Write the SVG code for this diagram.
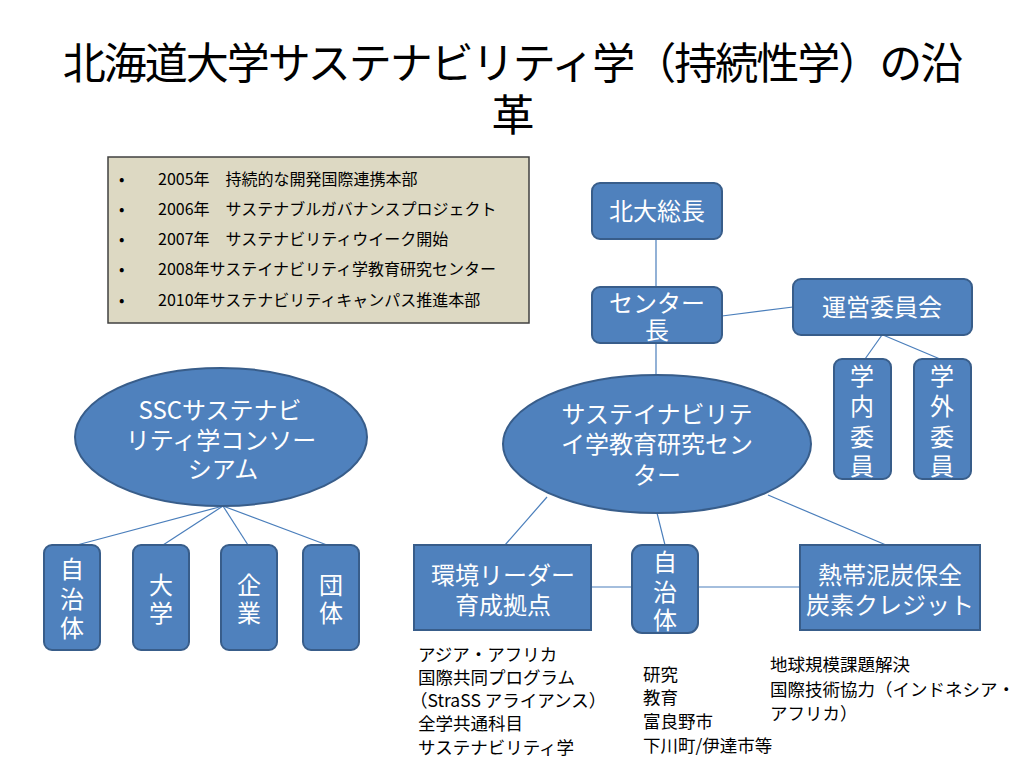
<svg xmlns="http://www.w3.org/2000/svg" width="1024" height="768" viewBox="0 0 1024 768">
<style>
text{font-family:"Noto Sans CJK JP","Noto Sans CJK SC",sans-serif}
.title{font-size:43px;fill:#000;text-anchor:middle;letter-spacing:-2px}
.node{fill:#4F81BD;stroke:#385D8A;stroke-width:2}
.nt{font-size:24px;fill:#fff;text-anchor:middle}
.bl{font-size:16px;fill:#000}
.sub{font-size:17.5px;fill:#000}
.conn line{stroke:#4A7EBB;stroke-width:1.2}
</style>
<rect width="1024" height="768" fill="#fff"/>
<g id="title">
<text class="title"><tspan x="512" y="79">北海道大学サステナビリティ学（持続性学）の沿</tspan><tspan x="512" y="131">革</tspan></text>
</g>
<g id="history">
<rect x="108" y="157" width="421" height="166" fill="#DDD9C3" stroke="#404040" stroke-width="1.5"/>
<text class="bl" x="119" y="185">•</text>
<text class="bl" x="158" y="185">2005年　持続的な開発国際連携本部</text>
<text class="bl" x="119" y="215">•</text>
<text class="bl" x="158" y="215">2006年　サステナブルガバナンスプロジェクト</text>
<text class="bl" x="119" y="245">•</text>
<text class="bl" x="158" y="245">2007年　サステナビリティウイーク開始</text>
<text class="bl" x="119" y="275">•</text>
<text class="bl" x="158" y="275">2008年サステイナビリティ学教育研究センター</text>
<text class="bl" x="119" y="306">•</text>
<text class="bl" x="158" y="306">2010年サステナビリティキャンパス推進本部</text>
</g>
<g class="conn" id="connectors">
<line x1="656" y1="239" x2="656" y2="287"/>
<line x1="722" y1="316" x2="793" y2="307"/>
<line x1="882" y1="335" x2="865" y2="359"/>
<line x1="883" y1="335" x2="940" y2="359"/>
<line x1="656" y1="343" x2="656" y2="375"/>
<line x1="547" y1="497" x2="505" y2="545"/>
<line x1="657" y1="513" x2="665" y2="545"/>
<line x1="768" y1="495" x2="886" y2="545"/>
<line x1="591" y1="587" x2="632" y2="587"/>
<line x1="698" y1="587" x2="800" y2="587"/>
<line x1="223" y1="506" x2="77" y2="545"/>
<line x1="223" y1="506" x2="163" y2="545"/>
<line x1="223" y1="506" x2="248" y2="545"/>
<line x1="223" y1="506" x2="327" y2="545"/>
</g>
<g id="president">
<rect class="node" x="592" y="183" width="130" height="56" rx="8"/>
<text class="nt" x="657" y="220">北大総長</text>
</g>
<g id="director">
<rect class="node" x="592" y="287" width="130" height="56" rx="8"/>
<text class="nt"><tspan x="657" y="312">センター</tspan><tspan x="657" y="339">長</tspan></text>
</g>
<g id="committee">
<rect class="node" x="793" y="279" width="179" height="56" rx="8"/>
<text class="nt" x="882" y="316">運営委員会</text>
</g>
<g id="internal">
<rect class="node" x="834" y="359" width="57" height="120" rx="8"/>
<text class="nt"><tspan x="862" y="385">学</tspan><tspan x="862" y="415">内</tspan><tspan x="862" y="446">委</tspan><tspan x="862" y="475">員</tspan></text>
</g>
<g id="external">
<rect class="node" x="914" y="359" width="57" height="120" rx="8"/>
<text class="nt"><tspan x="942" y="385">学</tspan><tspan x="942" y="415">外</tspan><tspan x="942" y="446">委</tspan><tspan x="942" y="475">員</tspan></text>
</g>
<g id="center">
<ellipse class="node" cx="657" cy="444" rx="154" ry="69"/>
<text class="nt"><tspan x="657" y="423">サステイナビリテ</tspan><tspan x="657" y="453">イ学教育研究セン</tspan><tspan x="657" y="484">ター</tspan></text>
</g>
<g id="ssc">
<ellipse class="node" cx="221" cy="437" rx="146" ry="69"/>
<text class="nt"><tspan x="220" y="419">SSCサステナビ</tspan><tspan x="221" y="449">リティ学コンソー</tspan><tspan x="223" y="478">シアム</tspan></text>
</g>
<g id="ssc-local">
<rect class="node" x="44" y="545" width="56" height="105" rx="8"/>
<text class="nt"><tspan x="72" y="578">自</tspan><tspan x="72" y="608">治</tspan><tspan x="72" y="637">体</tspan></text>
</g>
<g id="ssc-univ">
<rect class="node" x="133" y="545" width="56" height="105" rx="8"/>
<text class="nt"><tspan x="161" y="594">大</tspan><tspan x="161" y="622">学</tspan></text>
</g>
<g id="ssc-company">
<rect class="node" x="221" y="545" width="56" height="105" rx="8"/>
<text class="nt"><tspan x="249" y="594">企</tspan><tspan x="249" y="622">業</tspan></text>
</g>
<g id="ssc-group">
<rect class="node" x="303" y="545" width="56" height="105" rx="8"/>
<text class="nt"><tspan x="331" y="594">団</tspan><tspan x="331" y="622">体</tspan></text>
</g>
<g id="leader">
<rect class="node" x="414" y="545" width="177" height="85"/>
<text class="nt"><tspan x="503" y="584">環境リーダー</tspan><tspan x="503" y="614">育成拠点</tspan></text>
</g>
<g id="local">
<rect class="node" x="632" y="545" width="66" height="88" rx="10"/>
<text class="nt"><tspan x="665" y="571">自</tspan><tspan x="665" y="601">治</tspan><tspan x="665" y="629">体</tspan></text>
</g>
<g id="peat">
<rect class="node" x="800" y="545" width="180" height="85"/>
<text class="nt"><tspan x="890" y="584">熱帯泥炭保全</tspan><tspan x="890" y="614">炭素クレジット</tspan></text>
</g>
<g id="notes-leader">
<text class="sub" x="418" y="661">アジア・アフリカ</text>
<text class="sub" x="418" y="684">国際共同プログラム</text>
<text class="sub" x="410" y="707">（StraSS アライアンス）</text>
<text class="sub" x="418" y="730">全学共通科目</text>
<text class="sub" x="418" y="754">サステナビリティ学</text>
</g>
<g id="notes-local">
<text class="sub" x="643" y="681">研究</text>
<text class="sub" x="643" y="704">教育</text>
<text class="sub" x="643" y="728">富良野市</text>
<text class="sub" x="643" y="752">下川町/伊達市等</text>
</g>
<g id="notes-peat">
<text class="sub" x="770" y="671">地球規模課題解決</text>
<text class="sub" x="770" y="696">国際技術協力（インドネシア・</text>
<text class="sub" x="770" y="720">アフリカ）</text>
</g>
</svg>
